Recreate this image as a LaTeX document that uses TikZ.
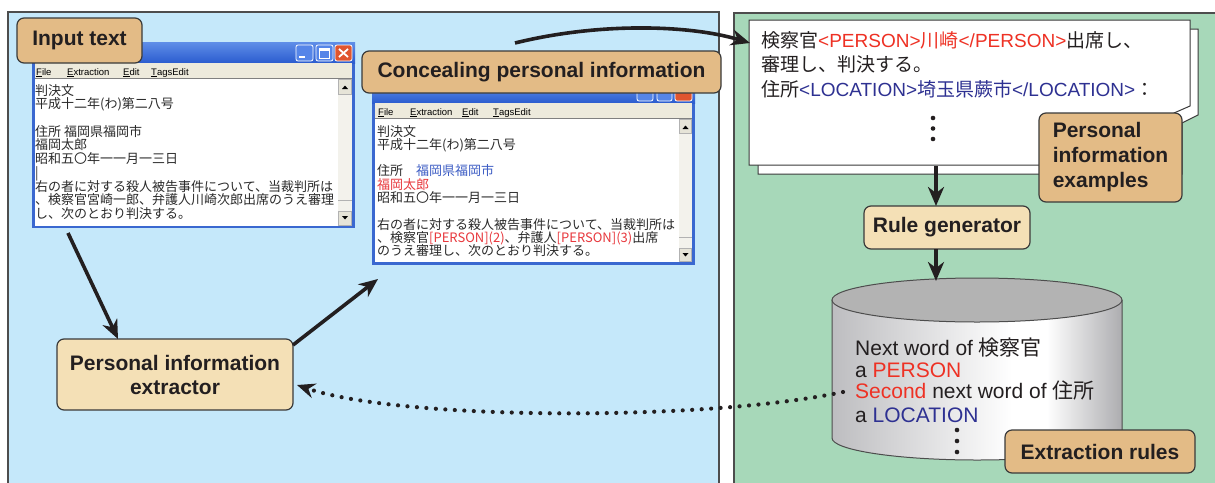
\documentclass[tikz,border=0pt]{standalone}
\usepackage{fontspec}
\setmainfont{Liberation Sans}
\newfontfamily\jp{Noto Sans CJK JP}
\usetikzlibrary{arrows.meta,calc}
\definecolor{bluebg}{HTML}{C5E8FA}
\definecolor{greenbg}{HTML}{A7D8B9}
\definecolor{panelline}{HTML}{4D4D4D}
\definecolor{tandark}{HTML}{E3BB86}
\definecolor{tanlight}{HTML}{F4E0B6}
\definecolor{lblborder}{HTML}{3A3A3A}
\definecolor{txt}{HTML}{231F20}
\definecolor{tred}{HTML}{EE3124}
\definecolor{tblue}{HTML}{2E3192}
\definecolor{wblue}{HTML}{3C5CC4}
\definecolor{wred}{HTML}{E8383D}
\definecolor{wintext}{HTML}{2A2A2A}
\definecolor{winblue}{HTML}{3A68D0}
\definecolor{titletop}{HTML}{5F8EE8}
\definecolor{titlebot}{HTML}{2B5CCF}
\definecolor{btnblue}{HTML}{5585E8}
\definecolor{btnred}{HTML}{E0552F}
\definecolor{menubg}{HTML}{EDEADC}
\definecolor{scrolltrack}{HTML}{F3F2EC}
\definecolor{scrollbtn}{HTML}{E6E4D8}
\definecolor{cylgray}{HTML}{BDBDC0}
\definecolor{cylgraytwo}{HTML}{ADADB0}
\definecolor{cyltop}{HTML}{B3B3B3}
\definecolor{paperline}{HTML}{3A3A3A}
\pgfdeclarehorizontalshading{cylsh}{100bp}{color(0bp)=(cylgray); color(25bp)=(cylgray); color(56bp)=(white); color(62bp)=(white); color(75bp)=(cylgraytwo); color(100bp)=(cylgraytwo)}
\begin{document}
\begin{tikzpicture}[x=1pt,y=-1pt,
  lbl/.style={draw=lblborder, line width=1.2pt, rounded corners=7pt, font=\bfseries\fontsize{21}{25}\selectfont, text=txt, inner sep=0pt, align=center},
  lbldark/.style={lbl, fill=tandark},
  lbllight/.style={lbl, fill=tanlight},
  arr/.style={draw=txt, line width=3.6pt, -{Stealth[length=19pt,width=16pt,inset=6pt]}},
  wtxt/.style={font=\jp\fontsize{13}{13}\selectfont, text=wintext, anchor=base west, inner sep=0pt},
  mtxt/.style={font=\fontsize{9.5}{9.5}\selectfont, anchor=base west, inner sep=0pt, text=black},
  ptxt/.style={font=\fontsize{19}{19}\selectfont, text=txt, anchor=base west, inner sep=0pt},
  ctxt/.style={font=\fontsize{21}{21}\selectfont, text=txt, anchor=base west, inner sep=0pt},
  btn/.style={draw=white, line width=0.8pt, rounded corners=2pt},
]
\useasboundingbox (0,0) rectangle (1215,482);
\clip (0,0) rectangle (1215,482);
\fill[white] (0,0) rectangle (1215,482);

% panels
\filldraw[fill=bluebg, draw=panelline, line width=1.5pt] (8,12) rectangle (719,495);
\filldraw[fill=greenbg, draw=panelline, line width=1.5pt] (734,13) rectangle (1230,495);

% ---------- window 1 ----------
\fill[winblue] (32,42) rectangle (355,228);
\shade[top color=titletop, bottom color=titlebot] (32,42) rectangle (355,63);
\filldraw[btn, fill=btnblue] (296,45) rectangle (313,61);
\fill[white] (299,55.5) rectangle (305,58);
\filldraw[btn, fill=btnblue] (316,45) rectangle (333,61);
\draw[white, line width=0.9pt] (319.5,48.5) rectangle (329.5,58);
\fill[white] (319.5,48.5) rectangle (329.5,50.5);
\filldraw[btn, fill=btnred] (335,45) rectangle (352,61);
\draw[white, line width=1.8pt] (339,49) -- (348,57) (348,49) -- (339,57);
\fill[menubg] (35,63) rectangle (352,78);
\fill[white] (35,78) rectangle (352,226);
\draw[gray, line width=1pt] (35,78.5) -- (352,78.5);
\fill[scrolltrack] (338,79) rectangle (352,226);
\draw[gray!60, line width=0.6pt] (338,200) -- (352,200);
\filldraw[fill=scrollbtn, draw=gray!60, line width=0.6pt] (338.5,79.5) rectangle (351.5,94);
\fill[black] (342,89) -- (348,89) -- (345,85.5) -- cycle;
\filldraw[fill=scrollbtn, draw=gray!60, line width=0.6pt] (338.5,211) rectangle (351.5,225.5);
\fill[black] (342,216) -- (348,216) -- (345,219.5) -- cycle;
\node[mtxt] (m1a) at (36,75) {\underline{F}ile};
\node[mtxt] (m1b) at (67,75) {\underline{E}xtraction};
\node[mtxt] (m1c) at (123,75) {\underline{E}dit};
\node[mtxt] (m1d) at (151,75) {\underline{T}agsEdit};
\node[wtxt] (w1l1) at (35,95) {判決文};
\node[wtxt] (w1l2) at (35,108.7) {平成十二年(わ)第二八号};
\node[wtxt] (w1l4) at (35,136) {住所 福岡県福岡市};
\node[wtxt] (w1l5) at (35,149.8) {福岡太郎};
\node[wtxt] (w1l6) at (35,163.5) {昭和五〇年一一月一三日};
\node[wtxt] (w1l7) at (35,177) {|};
\node[wtxt] (w1l8) at (35,191) {右の者に対する殺人被告事件について、当裁判所は};
\node[wtxt] (w1l9) at (35,204.6) {、検察官宮崎一郎、弁護人川崎次郎出席のうえ審理};
\node[wtxt] (w1l10) at (35,218) {し、次のとおり判決する。};

% ---------- window 2 ----------
\fill[winblue] (372,84) rectangle (695,265);
\shade[top color=titletop, bottom color=titlebot] (372,84) rectangle (695,103);
\filldraw[btn, fill=btnblue] (637,86) rectangle (653,101);
\filldraw[btn, fill=btnblue] (657,86) rectangle (672,101);
\filldraw[btn, fill=btnred] (675,86) rectangle (692,101);
\fill[menubg] (375,103) rectangle (692,118);
\fill[white] (375,118) rectangle (692,262);
\draw[gray, line width=1pt] (375,118.5) -- (692,118.5);
\fill[scrolltrack] (679,119) rectangle (692,262);
\draw[gray!60, line width=0.6pt] (679,237) -- (692,237);
\filldraw[fill=scrollbtn, draw=gray!60, line width=0.6pt] (679.5,119.5) rectangle (691.5,133);
\fill[black] (682.5,129) -- (688.5,129) -- (685.5,125.5) -- cycle;
\filldraw[fill=scrollbtn, draw=gray!60, line width=0.6pt] (679.5,248) rectangle (691.5,261.5);
\fill[black] (682.5,253) -- (688.5,253) -- (685.5,256.5) -- cycle;
\node[mtxt] (m2a) at (378,115) {\underline{F}ile};
\node[mtxt] (m2b) at (410,115) {\underline{E}xtraction};
\node[mtxt] (m2c) at (462,115) {\underline{E}dit};
\node[mtxt] (m2d) at (493,115) {\underline{T}agsEdit};
\node[wtxt] (w2l1) at (377,136) {判決文};
\node[wtxt] (w2l2) at (377,149.3) {平成十二年(わ)第二八号};
\node[wtxt] (w2l4) at (377,175.9) {住所　\textcolor{wblue}{福岡県福岡市}};
\node[wtxt] (w2l5) at (377,189.2) {\textcolor{wred}{福岡太郎}};
\node[wtxt] (w2l6) at (377,202.5) {昭和五〇年一一月一三日};
\node[wtxt] (w2l8) at (377,229) {右の者に対する殺人被告事件について、当裁判所は};
\node[wtxt] (w2l9) at (377,242.4) {、検察官\textcolor{wred}{[PERSON](2)}、弁護人\textcolor{wred}{[PERSON](3)}出席};
\node[wtxt] (w2l10) at (377,255.7) {のうえ審理し、次のとおり判決する。};

% labels over windows
\node[lbldark, minimum width=125pt, minimum height=45pt] (inlbl) at (79.5,40.5) {Input text};
\node[lbldark, minimum width=359pt, minimum height=42pt] (conlbl) at (541.5,72) {Concealing personal information};

% ---------- paper ----------
\filldraw[fill=white, draw=paperline, line width=1pt] (758,29) -- (1198,29) -- (1198,115) -- (1182,123) -- (1182,174) -- (758,174) -- cycle;
\filldraw[fill=white, draw=paperline, line width=1pt] (749,20) -- (1190,20) -- (1190,106) -- (1174,113) -- (1174,165) -- (749,165) -- cycle;
\node[ptxt] (p1) at (761,47) {{\jp 検察官}\textcolor{tred}{<PERSON>{\jp 川崎}</PERSON>}{\jp 出席し、}};
\node[ptxt] (p2) at (761,71) {{\jp 審理し、判決する。}};
\node[ptxt] (p3) at (761,96) {{\jp 住所}\textcolor{tblue}{<LOCATION>{\jp 埼玉県蕨市}</LOCATION>}{\jp ：}};
\fill[txt] (933,118) circle (2.3pt) (933,128.5) circle (2.3pt) (933,139) circle (2.3pt);
\node[lbldark, minimum width=143pt, minimum height=89pt, align=left] (exlbl) at (1110.5,157.5) {Personal\\information\\examples};

% rule generator
\node[lbllight, minimum width=166pt, minimum height=43pt] (rulegen) at (947,227.5) {Rule generator};

% ---------- cylinder ----------
\shade[shading=cylsh] (832,300) -- (832,438) arc[start angle=180, end angle=360, x radius=145pt, y radius=22pt] -- (1122,300) arc[start angle=0, end angle=180, x radius=145pt, y radius=22pt] -- cycle;
\draw[panelline, line width=1pt] (832,300) -- (832,438) arc[start angle=180, end angle=360, x radius=145pt, y radius=22pt] -- (1122,300);
\filldraw[fill=cyltop, draw=panelline, line width=1pt] (977,300) ellipse [x radius=145pt, y radius=22pt];
\node[ctxt] (c1) at (855,355) {Next word of {\jp 検察官}};
\node[ctxt] (c2) at (855,377) {a \textcolor{tred}{PERSON}};
\node[ctxt] (c3) at (855,398) {\textcolor{tred}{Second} next word of {\jp 住所}};
\node[ctxt] (c4) at (855,422) {a \textcolor{tblue}{LOCATION}};
\fill[txt] (957,430) circle (2.3pt) (957,441) circle (2.3pt) (957,452) circle (2.3pt);
\node[lbldark, minimum width=190pt, minimum height=43pt] (rulelbl) at (1100,451.5) {Extraction rules};

% extractor
\node[lbllight, minimum width=236pt, minimum height=71pt, font=\bfseries\fontsize{21}{24}\selectfont] (ext) at (175,374.5) {Personal information\\extractor};

% ---------- connectors ----------
\coordinate (w1out) at (68,233);
\coordinate (extin) at (118,339);
\coordinate (extout) at (293,345);
\coordinate (w2in) at (378,279);
\coordinate (conout) at (515,43);
\coordinate (paperin) at (750,43);
\coordinate (paperout) at (936,166);
\coordinate (rgin) at (936,206);
\coordinate (rgout) at (936,249);
\coordinate (cylin) at (936,281);
\coordinate (cylout) at (843,392);
\coordinate (extin2) at (297,385);
\draw[arr] (w1out) -- (extin);
\draw[arr] (extout) -- (w2in);
\draw[arr] (conout) .. controls (600,22) and (690,25) .. (paperin);
\draw[arr] (paperout) -- (rgin);
\draw[arr] (rgout) -- (cylin);
\draw[draw=txt, line width=4.2pt, line cap=round, dash pattern=on 0pt off 9.5pt, -{Stealth[length=18pt,width=15pt,inset=6pt]}] (cylout) .. controls (700,422) and (400,420) .. (extin2);
\end{tikzpicture}
\end{document}
